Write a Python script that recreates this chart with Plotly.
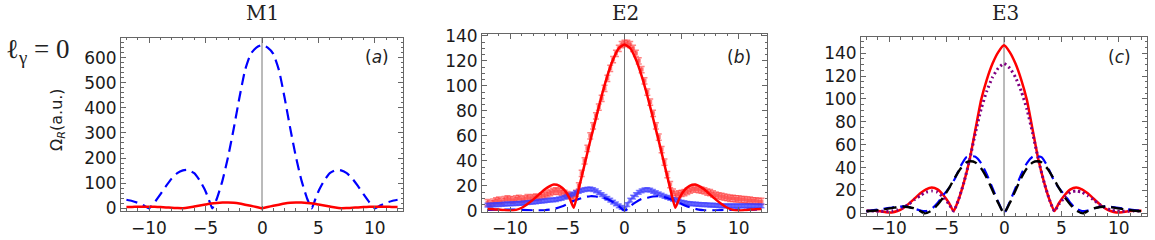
import plotly.graph_objects as go

W, H = 1155, 240

# ---------------- Panel (a) M1 ----------------
a_blue_x = [-12, -11.5, -11, -10.5, -10, -9.5, -9, -8.5, -8, -7.5, -7, -6.6, -6, -5.5, -5, -4.7, -4.4,
            -4, -3.5, -3, -2.5, -2, -1.5, -1, -0.5, 0, 0.5, 1, 1.5, 2, 2.5, 3, 3.5, 4,
            4.4, 4.7, 5, 5.5, 6, 6.6, 7, 7.5, 8, 8.5, 9, 9.5, 10, 10.5, 11, 11.5, 12]
a_blue_y = [34, 29, 22, 12, 0, 24, 55, 88, 118, 140, 151, 153, 140, 110, 68, 34, 0,
            38, 110, 205, 318, 440, 550, 615, 640, 650, 640, 615, 550, 440, 318, 205, 110, 38,
            0, 34, 68, 110, 140, 153, 151, 140, 118, 88, 55, 24, 0, 12, 22, 29, 34]
a_red_x = [-12, -11.5, -11, -10.5, -10, -9.5, -9, -8.5, -8, -7.5, -7, -6.5, -6, -5.5, -5, -4.5, -4,
           -3.5, -3, -2.5, -2, -1.5, -1, -0.5, 0, 0.5, 1, 1.5, 2, 2.5, 3, 3.5, 4, 4.5, 5, 5.5,
           6, 6.5, 7, 7.5, 8, 8.5, 9, 9.5, 10, 10.5, 11, 11.5, 12]
a_red_y = [5, 5.5, 6, 6.5, 6.5, 6, 5, 3.5, 2, 1, 0.5, 3, 7, 11, 15, 19, 21.5,
           23, 23.5, 22, 19, 14.5, 10, 5, 0, 5, 10, 14.5, 19, 22, 23.5, 23, 21.5, 19, 15, 11,
           7, 3, 0.5, 1, 2, 3.5, 5, 6, 6.5, 6.5, 6, 5.5, 5]

# ---------------- Panel (b) E2 ----------------
b_data_x = [i * 0.25 - 12 for i in range(97)]
b_red_data = [6.5, 5.5, 7, 8, 8.5, 7.5, 9, 9.5, 9, 8.5, 9.5, 10, 9, 9.5, 10.5, 10, 10.5, 11, 10.5, 12,
              12.5, 13.5, 14.5, 15.5, 16, 15.5, 15, 14, 13, 12, 11, 14, 20, 30, 40, 50, 60, 68, 76, 83,
              90, 98, 106, 114, 121, 126, 130, 133, 134, 134, 133, 130, 126, 120, 113, 104, 95, 87, 78, 68,
              59, 49, 39, 29, 21, 15, 13, 13.5, 14, 14.5, 15.5, 16.5, 17.5, 17.5, 17, 16.5, 16, 15, 14.5, 13.5,
              12.5, 12, 11.5, 11, 10.5, 10, 10, 9.5, 9.5, 9, 9, 8.5, 8.5, 8, 8, 7.5, 7.5]
b_blue_data = [4.5, 4.5, 4.8, 5, 5, 5.2, 5.3, 5.5, 5.5, 5.7, 5.8, 6, 6, 6.3, 6.5, 6.8, 7, 7.2, 7.5, 7.8,
               8, 8.3, 8.6, 8.8, 9, 9.5, 10, 10.8, 11.5, 12.5, 13.5, 14.5, 15.5, 16.3, 17, 17.3, 17.5, 17, 16,
               14.5, 13, 11.5, 10, 8.5, 7, 5.5, 4, 2.8, 1.5, 5, 8.5, 11, 13, 14.8, 16, 16.8, 17, 16.5, 15.5,
               14.5, 13.5, 12.5, 11.5, 10.8, 10, 9.2, 8.5, 7.8, 7, 6.5, 6, 5.8, 5.5, 5.3, 5.2, 5, 5, 4.8,
               4.5, 4.5, 4.3, 4.2, 4, 4, 4, 4, 4, 4, 4, 4, 4, 4, 4, 4, 4, 4, 4]
b_red_x = [-12, -11.5, -11, -10.5, -10, -9.5, -9, -8.5, -8, -7.5, -7, -6.5, -6.2, -5.7, -5.2, -4.8, -4.45,
           -4, -3.5, -3, -2.5, -2, -1.5, -1, -0.5, 0, 0.5, 1, 1.5, 2, 2.5, 3, 3.5, 4,
           4.45, 4.8, 5.2, 5.7, 6.2, 6.5, 7, 7.5, 8, 8.5, 9, 9.5, 10, 10.5, 11, 11.5, 12]
b_red_y = [1.5, 1.2, 1, 0.6, 0.3, 0.8, 2.5, 5.5, 9, 13, 17, 20, 21, 20, 16, 10, 2.5,
           18, 37, 56, 74, 92, 108, 121, 130, 133, 130, 121, 108, 92, 74, 56, 37, 18,
           2.5, 10, 16, 20, 21, 20, 17, 13, 9, 5.5, 2.5, 0.8, 0.3, 0.6, 1, 1.2, 1.5]
b_blue_x = [-12, -11, -10, -9, -8, -7.5, -7, -6.5, -6, -5.5, -5, -4.5, -4, -3.5, -3, -2.5, -2, -1.5, -1, -0.5, 0,
            0.5, 1, 1.5, 2, 2.5, 3, 3.5, 4, 4.5, 5, 5.5, 6, 6.5, 7, 7.5, 8, 9, 10, 11, 12]
b_blue_y = [0.8, 1, 1, 0.8, 0.5, 0.4, 0.5, 1, 2, 3.5, 5.5, 7.8, 9.5, 11, 11.7, 11.5, 10.5, 9.5, 7, 3.8, 0,
            3.8, 7, 9.5, 10.5, 11.5, 11.7, 11, 9.5, 7.8, 5.5, 3.5, 2, 1, 0.5, 0.4, 0.5, 0.8, 1, 1, 0.8]

# ---------------- Panel (c) E3 ----------------
c_red_x = [-12, -11.3, -10.8, -10.3, -9.8, -9.3, -8.8, -8.3, -7.8, -7.3, -6.8, -6.3, -5.8, -5.3, -4.8, -4.4,
           -4, -3.5, -3, -2.5, -2, -1.5, -1, -0.5, 0, 0.5, 1, 1.5, 2, 2.5, 3, 3.5, 4,
           4.4, 4.8, 5.3, 5.8, 6.3, 6.8, 7.3, 7.8, 8.3, 8.8, 9.3, 9.8, 10.3, 10.8, 11.3, 12]
c_red_y = [2.3, 2.2, 1.8, 1, 0.8, 2, 4.5, 8.5, 13, 17.5, 21, 22.5, 21, 16, 9, 2,
           11, 27, 47, 73, 99, 117, 131, 141, 147, 141, 131, 117, 99, 73, 47, 27, 11,
           2, 9, 16, 21, 22.5, 21, 17.5, 13, 8.5, 4.5, 2, 0.8, 1, 1.8, 2.2, 2.3]
c_purple_y = [2, 2, 1.8, 1.8, 2, 3, 5, 8, 12, 15.5, 18.5, 19.5, 18.5, 14, 8, 2,
              11, 27, 47, 70, 91, 107, 119, 127, 131, 127, 119, 107, 91, 70, 47, 27, 11,
              2, 8, 14, 18.5, 19.5, 18.5, 15.5, 12, 8, 5, 3, 2, 1.8, 1.8, 2, 2]
c_blue_x = [-12, -11.2, -10.5, -9.8, -9.3, -8.8, -8.3, -7.8, -7.3, -6.8, -6.3, -5.8, -5.3, -4.8, -4.3, -3.8,
            -3.3, -2.9, -2.5, -2, -1.5, -1, -0.5, 0, 0.5, 1, 1.5, 2, 2.5, 2.9, 3.3, 3.8, 4.3, 4.8,
            5.3, 5.8, 6.3, 6.8, 7.3, 7.8, 8.3, 8.8, 9.3, 9.8, 10.5, 11.2, 12]
c_blue_y = [2, 3, 4, 5, 5.8, 6, 5.5, 4, 2.5, 2, 4, 9, 16, 22, 30, 41,
            49, 50, 49.5, 44, 34, 22, 10, 0, 10, 22, 34, 44, 49.5, 50, 49, 41, 30, 22,
            16, 9, 4, 2, 2.5, 4, 5.5, 6, 5.8, 5, 4, 3, 2]
c_black_x = [-12, -11.2, -10.5, -9.8, -9.3, -8.8, -8.4, -7.9, -7.4, -6.9, -6.3, -5.8, -5.3, -4.8, -4.3, -3.8,
             -3.3, -2.9, -2.5, -2, -1.5, -1, -0.5, 0, 0.5, 1, 1.5, 2, 2.5, 2.9, 3.3, 3.8, 4.3, 4.8,
             5.3, 5.8, 6.3, 6.9, 7.4, 7.9, 8.4, 8.8, 9.3, 9.8, 10.5, 11.2, 12]
c_black_y = [1.8, 2.5, 3.5, 4.5, 5.5, 6, 5.5, 4.5, 2.5, 0, 2.5, 7.5, 14, 22, 31, 39,
             44.5, 45.5, 44.5, 39.5, 31, 20, 9, 0, 9, 20, 31, 39.5, 44.5, 45.5, 44.5, 39, 31, 22,
             14, 7.5, 2.5, 0, 2.5, 4.5, 5.5, 6, 5.5, 4.5, 3.5, 2.5, 1.8]

titles = ["M1", "E2", "E3"]
panel_tags = ["(<i>a</i>)", "(<i>b</i>)", "(<i>c</i>)"]
x_ticks = [-10, -5, 0, 5, 10]
x_tick_text = ["\u221210", "\u22125", "0", "5", "10"]

RED = "rgb(255,0,0)"
BLUE = "rgb(0,0,255)"
PURPLE = "rgb(128,0,128)"
FRAME = "#666666"
RED_PTS = "rgba(255,50,50,0.6)"
BLUE_PTS = "rgba(60,60,255,0.6)"

fig = go.Figure()

# panel a
fig.add_trace(go.Scatter(x=a_blue_x, y=a_blue_y, mode="lines", xaxis="x", yaxis="y",
                         line=dict(color=BLUE, width=2.2, dash="11px,6px", shape="spline", smoothing=0.5)))
fig.add_trace(go.Scatter(x=a_red_x, y=a_red_y, mode="lines", xaxis="x", yaxis="y",
                         line=dict(color=RED, width=2.5, shape="spline", smoothing=0.5)))

# panel b
fig.add_trace(go.Scatter(x=b_data_x, y=b_red_data, mode="markers", xaxis="x2", yaxis="y2",
                         marker=dict(symbol="square", size=4, color=RED_PTS),
                         error_y=dict(type="constant", value=2.5, color=RED_PTS, thickness=1.5, width=3)))
fig.add_trace(go.Scatter(x=b_data_x, y=b_blue_data, mode="markers", xaxis="x2", yaxis="y2",
                         marker=dict(symbol="square", size=4, color=BLUE_PTS),
                         error_y=dict(type="constant", value=1.5, color=BLUE_PTS, thickness=1.5, width=3)))
fig.add_trace(go.Scatter(x=b_blue_x, y=b_blue_y, mode="lines", xaxis="x2", yaxis="y2",
                         line=dict(color=BLUE, width=2.2, dash="11px,6px", shape="spline", smoothing=0.5)))
fig.add_trace(go.Scatter(x=b_red_x, y=b_red_y, mode="lines", xaxis="x2", yaxis="y2",
                         line=dict(color=RED, width=2.5, shape="spline", smoothing=0.5)))

# panel c
fig.add_trace(go.Scatter(x=c_red_x, y=c_red_y, mode="lines", xaxis="x3", yaxis="y3",
                         line=dict(color=RED, width=2.5, shape="spline", smoothing=0.5)))
fig.add_trace(go.Scatter(x=c_red_x, y=c_purple_y, mode="lines", xaxis="x3", yaxis="y3",
                         line=dict(color=PURPLE, width=3, dash="2px,3px", shape="spline", smoothing=0.5)))
fig.add_trace(go.Scatter(x=c_blue_x, y=c_blue_y, mode="lines", xaxis="x3", yaxis="y3",
                         line=dict(color=BLUE, width=2.2, dash="11px,6px", shape="spline", smoothing=0.5)))
fig.add_trace(go.Scatter(x=c_black_x, y=c_black_y, mode="lines", xaxis="x3", yaxis="y3",
                         line=dict(color="black", width=2.4, dash="12px,6px", shape="spline", smoothing=0.5)))

tickfont = dict(family="DejaVu Sans", size=17, color="#1a1a1a")


def xax(l, r, anchor):
    return dict(domain=[l / W, r / W], range=[-12.48, 12.48], anchor=anchor,
                showline=True, linecolor=FRAME, linewidth=1, mirror="allticks",
                ticks="inside", ticklen=5, tickcolor=FRAME, tickwidth=1,
                tickmode="array", tickvals=x_ticks, showticklabels=False,
                minor=dict(ticks="inside", ticklen=2.5, dtick=1, tick0=0, tickcolor=FRAME, showgrid=False),
                showgrid=False, zeroline=False, automargin=False, fixedrange=True)


def yax(top, bot, rng, dtick, mdtick, anchor):
    return dict(domain=[1 - bot / H, 1 - top / H], range=rng, anchor=anchor,
                showline=True, linecolor=FRAME, linewidth=1, mirror="allticks",
                ticks="inside", ticklen=5, tickcolor=FRAME, tickwidth=1,
                dtick=dtick, tick0=0,
                minor=dict(ticks="inside", ticklen=2.5, dtick=mdtick, tick0=0, tickcolor=FRAME, showgrid=False),
                showgrid=False, zeroline=False, tickfont=tickfont, automargin=False, fixedrange=True)


fig.update_layout(
    width=W, height=H, showlegend=False,
    margin=dict(l=0, r=0, t=0, b=0),
    paper_bgcolor="white", plot_bgcolor="white",
    xaxis=xax(121, 403, "y"),
    yaxis=yax(37.5, 210.5, [-8.8, 680], 100, 20, "x"),
    xaxis2=xax(482, 767, "y2"),
    yaxis2=yax(33.5, 211.5, [-0.5, 141.8], 20, 5, "x2"),
    xaxis3=xax(861, 1147, "y3"),
    yaxis3=yax(37, 215.5, [-1.9, 154.2], 20, 5, "x3"),
)

# vertical lines at x = 0
for xr, yr in [("x", "y"), ("x2", "y2"), ("x3", "y3")]:
    fig.add_shape(type="line", xref=xr, yref=yr + " domain", x0=0, x1=0, y0=0, y1=1,
                  line=dict(color="#777777", width=1), layer="below")

# x tick labels (placed just under each frame)
for xr in ["x", "x2", "x3"]:
    for v, txt in zip(x_ticks, x_tick_text):
        fig.add_annotation(text=txt, x=v, y=1 - 228 / H, xref=xr, yref="paper",
                           showarrow=False, font=tickfont, xanchor="center", yanchor="middle")

title_x = [262, 625, 1005]
tag_x = [391, 753, 1133]
for t, tx in zip(titles, title_x):
    fig.add_annotation(text=t, x=tx / W, y=1 - 13 / H, xref="paper", yref="paper",
                       showarrow=False, font=dict(family="DejaVu Serif", size=20, color="#222"),
                       xanchor="center", yanchor="middle")
for t, tx in zip(panel_tags, tag_x):
    fig.add_annotation(text=t, x=tx / W, y=1 - 57 / H, xref="paper", yref="paper",
                       showarrow=False, font=dict(family="DejaVu Sans", size=17, color="#222"),
                       xanchor="right", yanchor="middle")

fig.add_annotation(text="ℓ<sub>γ</sub> = 0", x=4 / W, y=1 - 51 / H, xref="paper", yref="paper",
                   showarrow=False, font=dict(family="Liberation Serif", size=27, color="#222"),
                   xanchor="left", yanchor="middle")
fig.add_annotation(text="Ω<sub><i>R</i></sub>(a.u.)", x=57 / W, y=1 - 120 / H, xref="paper", yref="paper",
                   showarrow=False, textangle=-90, font=dict(family="DejaVu Sans", size=16, color="#222"),
                   xanchor="center", yanchor="middle")

fig.write_html("out.html",
               config={"displayModeBar": False, "staticPlot": True},
               post_script="document.body.style.margin='0px';document.body.style.overflow='hidden';")
